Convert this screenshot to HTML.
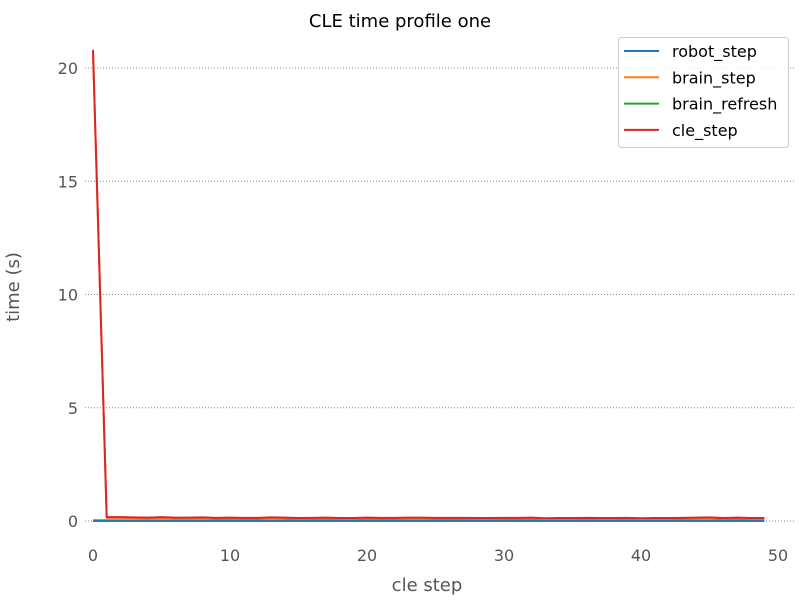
<!DOCTYPE html>
<html><head><meta charset="utf-8"><style>body{margin:0;background:#fff}svg{display:block;font-family:"DejaVu Sans","Liberation Sans",sans-serif}</style></head>
<body>
<svg id="chart" width="800" height="600">
<text x="400" y="27" text-anchor="middle" font-size="18" fill="#000">CLE time profile one</text>
<text x="427" y="591" text-anchor="middle" font-size="18" fill="#555">cle step</text>
<text transform="translate(19,287) rotate(-90)" text-anchor="middle" font-size="18" fill="#555">time (s)</text>
<g id="grid"></g><g id="xt"></g><g id="yt"></g><g id="lines"></g>
<g>
<rect x="618.5" y="37.5" width="170" height="110" rx="3" fill="#fff" fill-opacity="0.85" stroke="#ccc"/>
<g id="leg"></g>
</g>
</svg>
<script>
const seriesNames=["robot_step","brain_step","brain_refresh","cle_step"];
const colors=["#1f77b4","#ff7f0e","#2ca02c","#d62728"];
const robotStep=[0.03,0.03,0.03,0.03,0.03,0.03,0.03,0.03,0.03,0.03,0.03,0.03,0.03,0.03,0.03,0.03,0.03,0.03,0.03,0.03,0.03,0.03,0.03,0.03,0.03,0.03,0.03,0.03,0.03,0.03,0.03,0.03,0.03,0.03,0.03,0.03,0.03,0.03,0.03,0.03,0.03,0.03,0.03,0.03,0.03,0.03,0.03,0.03,0.03,0.03];
const brainStep=[20.7,0.14,0.14,0.13,0.12,0.14,0.12,0.12,0.13,0.11,0.12,0.11,0.11,0.13,0.12,0.10,0.11,0.12,0.10,0.10,0.12,0.11,0.11,0.12,0.12,0.11,0.11,0.11,0.10,0.10,0.11,0.11,0.12,0.09,0.10,0.10,0.11,0.10,0.10,0.11,0.09,0.10,0.10,0.11,0.12,0.13,0.10,0.12,0.10,0.10];
const brainRefresh=Array(50).fill(0.0);
const cleStep=[20.8,0.17,0.17,0.16,0.15,0.17,0.15,0.15,0.16,0.14,0.15,0.14,0.14,0.16,0.15,0.13,0.14,0.15,0.13,0.13,0.15,0.14,0.14,0.15,0.15,0.14,0.14,0.14,0.13,0.13,0.14,0.14,0.15,0.12,0.13,0.13,0.14,0.13,0.13,0.14,0.12,0.13,0.13,0.14,0.15,0.16,0.13,0.15,0.13,0.13];
const xTicks=[0,10,20,30,40,50];
const yTicks=[0,5,10,15,20];
const NS="http://www.w3.org/2000/svg";
const X=v=>93+v*13.7;
const Y=v=>521-v*22.65;
function mk(tag,attrs,parent){const e=document.createElementNS(NS,tag);for(const k in attrs)e.setAttribute(k,attrs[k]);parent.appendChild(e);return e;}
const grid=document.getElementById('grid'),xt=document.getElementById('xt'),yt=document.getElementById('yt'),lines=document.getElementById('lines'),leg=document.getElementById('leg');
yTicks.forEach(t=>{
 const l=mk('line',{x1:85,x2:796,y1:Y(t),y2:Y(t),stroke:'#888','stroke-dasharray':'1,2','stroke-width':1},grid);
 
 
 const tx=mk('text',{x:78,y:Y(t)+6,'text-anchor':'end','font-size':16,fill:'#555'},yt);
 tx.textContent=t;
 
 
});
xTicks.forEach(t=>{
 const tx=mk('text',{x:X(t),y:561,'text-anchor':'middle','font-size':16,fill:'#555'},xt);
 tx.textContent=t;
 
 
});
const all=[robotStep,brainStep,brainRefresh,cleStep];
[2,0,1,3].forEach(i=>{
 const s=all[i];
 const p=mk('polyline',{points:s.map((v,j)=>X(j)+','+Y(v)).join(' '),fill:'none',stroke:colors[i],'stroke-width':2,'stroke-linejoin':'round'},lines);
 
 
});
seriesNames.forEach((n,i)=>{
 const ly=51+i*26.3;
 const g=mk('g',{},leg);
 
 
 mk('line',{x1:624,x2:659,y1:ly,y2:ly,stroke:colors[i],'stroke-width':2},g);
 const t=mk('text',{x:672,y:ly+6,'font-size':16,fill:'#000'},g);
 t.textContent=n;
});
</script>
</body></html>
